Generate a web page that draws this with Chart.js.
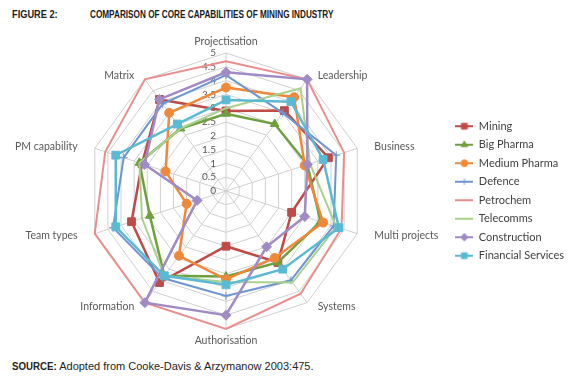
<!DOCTYPE html>
<html>
<head>
<meta charset="utf-8">
<title>Comparison of core capabilities of mining industry</title>
<script src="https://cdn.jsdelivr.net/npm/chart.js@4.4.1/dist/chart.umd.min.js"></script>
<style>
  html, body { margin: 0; padding: 0; background: #fff; }
  body { width: 580px; height: 378px; position: relative; overflow: hidden; }
  .fig { position: absolute; top: 8px; font-family: "Liberation Sans Narrow", "Arial Narrow", "Liberation Sans", sans-serif; font-weight: bold; font-size: 11px; color: #1a1a1a; white-space: nowrap; transform-origin: 0 0; }
  #chartBox { position: absolute; left: 0; top: 30px; width: 580px; height: 322px; }
  .source { position: absolute; left: 12px; top: 360px; font-family: "Liberation Sans", Arial, sans-serif; font-size: 11px; color: #222; white-space: nowrap; }
  .source b { display: inline-block; transform: scaleX(0.88); transform-origin: 0 0; margin-right: -6px; }
</style>
</head>
<body>
<div class="fig" style="left:12px; transform: scaleX(0.84)">FIGURE 2:</div>
<div class="fig" style="left:90px; transform: scaleX(0.745)">COMPARISON OF CORE CAPABILITIES OF MINING INDUSTRY</div>
<div id="chartBox"><canvas id="radarChart"></canvas></div>
<div class="source"><b>SOURCE:</b> Adopted from Cooke-Davis &amp; Arzymanow 2003:475.</div>

<script>
// 軸的類別
const categories = ['Projectisation', 'Leadership', 'Business', 'Multi projects', 'Systems',
                    'Authorisation', 'Information', 'Team types', 'PM capability', 'Matrix'];

// 各行業數值
const mining        = [2.9, 3.6, 3.9, 2.5, 3.2, 2.0, 4.1, 3.6, 3.2, 4.1];
const bigPharma     = [2.8, 3.0, 3.1, 3.6, 3.2, 3.1, 3.8, 2.9, 3.3, 2.8];
const mediumPharma  = [3.75, 4.2, 3.0, 3.7, 3.0, 3.2, 2.9, 1.5, 2.3, 3.5];
const defence       = [4.2, 3.5, 4.2, 4.1, 4.0, 3.8, 3.9, 4.3, 3.9, 3.9];
const petrochem     = [4.7, 5.0, 4.5, 4.4, 4.6, 5.0, 5.0, 5.0, 4.6, 5.0];
const telecomms     = [3.0, 4.6, 3.2, 4.2, 4.1, 3.3, 3.8, 3.2, 3.3, 2.8];
const construction  = [4.3, 5.0, 3.1, 3.0, 2.5, 4.5, 5.0, 1.1, 3.1, 4.1];
const financial     = [3.3, 4.0, 3.7, 4.3, 3.5, 3.4, 3.8, 4.2, 4.2, 3.0];

// 刻度標籤
const tickLabels = ['0', '0.5', '1', '1.5', '2', '2.5', '3', '3.5', '4', '4.5', '5'];

const seriesNames  = ['Mining', 'Big Pharma', 'Medium Pharma', 'Defence', 'Petrochem',
                      'Telecomms', 'Construction', 'Financial Services'];
const seriesValues = [mining, bigPharma, mediumPharma, defence, petrochem,
                      telecomms, construction, financial];
const seriesColors = ['#be4b48', '#6f9f3e', '#f0883a', '#6f95cf', '#e88f8d',
                      '#a9d18e', '#a08bc4', '#5bbad3'];
const seriesMarkers = ['rect', 'triangle', 'circle', 'cross', false, false, 'rectRot', 'rect'];
const markerSizes   = [5.5, 5, 4.5, 4, 0, 0, 5, 5.5];
const lineWidths    = [2.5, 2.5, 2.5, 2, 2, 2, 2.5, 2.5];

// 圖例小圖示: 線 + 標記
function makeIcon(i) {
    const c = document.createElement('canvas');
    c.width = 18; c.height = 12;
    const g = c.getContext('2d');
    g.strokeStyle = seriesColors[i];
    g.fillStyle = seriesColors[i];
    g.lineWidth = 2;
    g.beginPath(); g.moveTo(0, 6); g.lineTo(18, 6); g.stroke();
    if (seriesMarkers[i]) {
        g.lineWidth = 1;
        Chart.helpers.drawPoint(g, { pointStyle: seriesMarkers[i], radius: markerSizes[i] * 0.75, rotation: 0, borderWidth: 1 }, 9, 6);
    }
    return c;
}

// 刻度文字畫在軸的左邊, 軸標籤放在頂點旁邊 (像 Excel)
const labelPlugin = {
    id: 'labelPlugin',
    beforeDatasetsDraw(chart) {
        const scale = chart.scales.r;
        const ctx = chart.ctx;
        ctx.save();
        ctx.font = '10px Lato';
        ctx.fillStyle = '#595959';
        ctx.textAlign = 'right';
        ctx.textBaseline = 'middle';
        scale.ticks.forEach((t, k) => {
            const y = scale.yCenter - scale.getDistanceFromCenterForValue(t.value);
            ctx.fillText(tickLabels[k], scale.xCenter - 10, y);
        });

        ctx.font = '10.5px Lato';
        categories.forEach((name, i) => {
            const p = scale.getPointPosition(i, scale.drawingArea);
            const a = i * Math.PI * 2 / categories.length;
            const s = Math.sin(a), c = Math.cos(a);
            let dx = 18 * s;
            let dy = Math.abs(c) > 0.99 ? -11.5 * c : -5 * c;
            ctx.textAlign = s > 0.1 ? 'left' : (s < -0.1 ? 'right' : 'center');
            ctx.fillText(name, p.x + dx, p.y + dy);
        });
        ctx.restore();
    }
};

document.addEventListener('DOMContentLoaded', function() {
    const ctx = document.getElementById('radarChart').getContext('2d');
    const icons = seriesNames.map((n, i) => makeIcon(i));

    const datasets = seriesNames.map((name, i) => ({
        label: name,
        data: seriesValues[i],
        borderColor: seriesColors[i],
        backgroundColor: seriesColors[i],
        borderWidth: lineWidths[i],
        fill: false,
        tension: 0,
        pointStyle: seriesMarkers[i],
        pointRadius: markerSizes[i],
        pointBorderWidth: 1,
        pointBackgroundColor: seriesColors[i],
        pointBorderColor: seriesColors[i],
        order: seriesNames.length - i
    }));

    new Chart(ctx, {
        type: 'radar',
        data: { labels: categories, datasets: datasets },
        options: {
            responsive: true,
            maintainAspectRatio: false,
            animation: false,
            layout: { padding: { left: 6, right: 6, top: 23, bottom: 23 } },
            plugins: {
                tooltip: { enabled: false },
                legend: {
                    position: 'right',
                    labels: {
                        usePointStyle: true,
                        pointStyleWidth: 18,
                        padding: 7.5,
                        color: '#404040',
                        font: { family: 'Lato', size: 11 },
                        generateLabels: function(chart) {
                            return chart.data.datasets.map((ds, i) => ({
                                text: ds.label,
                                pointStyle: icons[i],
                                fillStyle: ds.borderColor,
                                strokeStyle: ds.borderColor,
                                lineWidth: 0,
                                hidden: false,
                                datasetIndex: i,
                                fontColor: '#404040'
                            }));
                        }
                    }
                }
            },
            scales: {
                r: {
                    min: 0,
                    max: 5,
                    ticks: { stepSize: 0.5, display: false },
                    grid: { color: '#d0d0d0', lineWidth: 1, circular: false },
                    angleLines: { color: '#d0d0d0', lineWidth: 1 },
                    pointLabels: { display: false }
                }
            }
        },
        plugins: [labelPlugin]
    });
});
</script>
</body>
</html>
